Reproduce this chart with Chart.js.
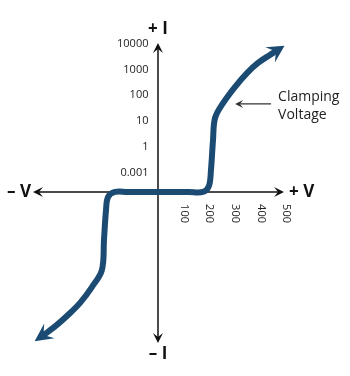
<!DOCTYPE html>
<html>
<head>
<meta charset="utf-8">
<script src="https://cdn.jsdelivr.net/npm/chart.js@4.4.0/dist/chart.umd.min.js"></script>
<style>
  html, body { margin: 0; padding: 0; background: #fff; }
</style>
</head>
<body>
<canvas id="ivChart" width="350" height="376"></canvas>
<script>
// varistor V-I curve (current axis is a log-ish step scale)
const voltage = [-451, -428, -393, -350, -303, -257, -218, -210, -202, -194, -167, -120, 0, 120, 175, 198, 206, 214, 222, 253, 299, 346, 389, 435, 459];
const current = [-5.56, -5.40, -5.13, -4.75, -4.28, -3.67, -3.01, -1.85, -0.69, -0.19, 0, 0, 0, 0, 0, 0.23, 0.85, 2.01, 2.86, 3.43, 4.05, 4.59, 4.98, 5.29, 5.44];
const xTicks = [100, 200, 300, 400, 500];
const yTicks = [1, 2, 3, 4, 5, 6];
const yLabels = ['0.001', '1', '10', '100', '1000', '10000'];

const curveColor = '#1b4b72';
const axisColor = '#111';
const tickFont = {family: '"Open Sans", sans-serif', size: 11};

// where the "Clamping Voltage" note points to (data units)
const noteTip = {v: 300, i: 3.4};
const noteTextV = 467;

function arrowHead(ctx, x, y, ang, len, half, color) {
    ctx.save();
    ctx.translate(x, y);
    ctx.rotate(ang);
    ctx.beginPath();
    ctx.moveTo(0, 0);
    ctx.lineTo(-len, -half);
    ctx.lineTo(-len * 0.6, 0);
    ctx.lineTo(-len, half);
    ctx.closePath();
    ctx.fillStyle = color;
    ctx.fill();
    ctx.restore();
}

const axesPlugin = {
    id: 'axes',
    beforeDatasetsDraw(chart) {
        const {ctx, chartArea: a, scales: {x, y}} = chart;
        const x0 = x.getPixelForValue(0);
        const y0 = y.getPixelForValue(0);
        ctx.save();
        ctx.strokeStyle = axisColor;
        ctx.lineWidth = 1.5;
        ctx.beginPath();
        ctx.moveTo(a.left + 5, y0);
        ctx.lineTo(a.right - 5, y0);
        ctx.moveTo(x0, a.top + 5);
        ctx.lineTo(x0, a.bottom - 5);
        ctx.stroke();
        arrowHead(ctx, a.left, y0, Math.PI, 10, 5, axisColor);
        arrowHead(ctx, a.right, y0, 0, 10, 5, axisColor);
        arrowHead(ctx, x0, a.top, -Math.PI / 2, 10, 5, axisColor);
        arrowHead(ctx, x0, a.bottom, Math.PI / 2, 10, 5, axisColor);

        ctx.fillStyle = axisColor;
        ctx.font = 'bold 17px "Open Sans", sans-serif';
        ctx.textBaseline = 'middle';
        ctx.textAlign = 'right';
        ctx.fillText('\u2013 V', a.left - 2, y0);
        ctx.textAlign = 'left';
        ctx.fillText('+ V', a.right + 5, y0);
        ctx.textAlign = 'center';
        ctx.fillText('+ I', x0, a.top - 14);
        ctx.fillText('\u2013 I', x0, a.bottom + 11);
        ctx.restore();
    },
    afterDatasetsDraw(chart) {
        const {ctx, scales: {x, y}} = chart;
        const pts = chart.getDatasetMeta(0).data;
        // arrow heads on both ends of the curve
        const ends = [[pts[0], pts[1], 9, 18, 9], [pts[pts.length - 1], pts[pts.length - 2], 10, 17, 9]];
        ends.forEach(([p, q, ahead, len, half]) => {
            const ang = Math.atan2(p.y - q.y, p.x - q.x);
            arrowHead(ctx, p.x + Math.cos(ang) * ahead, p.y + Math.sin(ang) * ahead, ang, len, half, curveColor);
        });

        // Clamping Voltage note
        const tx = x.getPixelForValue(noteTip.v);
        const ty = y.getPixelForValue(noteTip.i);
        const lx = x.getPixelForValue(noteTextV);
        ctx.save();
        ctx.strokeStyle = '#333';
        ctx.lineWidth = 1.3;
        ctx.beginPath();
        ctx.moveTo(tx + 4, ty);
        ctx.lineTo(lx - 7, ty);
        ctx.stroke();
        arrowHead(ctx, tx, ty, Math.PI, 8, 4, '#333');
        ctx.fillStyle = '#222';
        ctx.font = '14px "Open Sans", sans-serif';
        ctx.textAlign = 'left';
        ctx.textBaseline = 'middle';
        ctx.fillText('Clamping', lx, ty - 7);
        ctx.fillText('Voltage', lx, ty + 11);
        ctx.restore();
    }
};

const ivChart = new Chart(document.getElementById('ivChart'), {
    type: 'scatter',
    data: {
        datasets: [{
            data: voltage.map((v, i) => ({x: v, y: current[i]})),
            showLine: true,
            borderColor: curveColor,
            borderWidth: 6,
            borderCapStyle: 'butt',
            borderJoinStyle: 'round',
            tension: 0.35,
            pointRadius: 0,
            clip: false
        }]
    },
    options: {
        responsive: false,
        animation: false,
        devicePixelRatio: 1,
        layout: {padding: {left: 33, top: 43, right: 66, bottom: 33}},
        plugins: {legend: {display: false}, tooltip: {enabled: false}},
        scales: {
            x: {
                type: 'linear',
                min: -486,
                max: 490,
                position: {y: 0},
                grid: {display: false, drawTicks: false},
                border: {display: false},
                afterBuildTicks: s => { s.ticks = xTicks.map(v => ({value: v})); },
                ticks: {
                    autoSkip: false,
                    // -90 turns the labels clockwise (read top to bottom)
                    minRotation: -90,
                    maxRotation: -90,
                    padding: 31,
                    color: '#222',
                    font: tickFont
                }
            },
            y: {
                type: 'linear',
                min: -5.83,
                max: 5.75,
                // labels sit flush on the scale's line, so park it a bit left of the real axis
                position: {x: -37},
                grid: {display: false, drawTicks: false},
                border: {display: false},
                afterBuildTicks: s => { s.ticks = yTicks.map(v => ({value: v})); },
                ticks: {
                    labelOffset: 7,
                    color: '#222',
                    font: tickFont,
                    callback: (val, i) => yLabels[i]
                }
            }
        }
    },
    plugins: [axesPlugin]
});
</script>
</body>
</html>
